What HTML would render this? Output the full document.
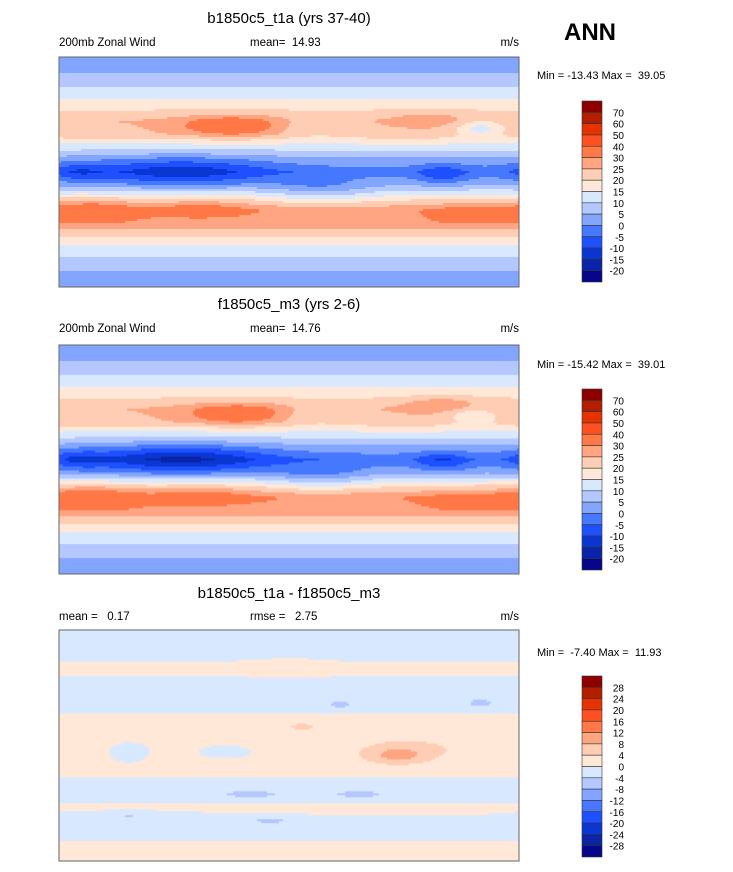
<!DOCTYPE html>
<html><head><meta charset="utf-8"><style>
body{margin:0;background:#fff;}
svg{display:block;font-family:"Liberation Sans",sans-serif;}
text{white-space:pre;}
</style></head><body>
<svg id="fig" width="733" height="872" viewBox="0 0 733 872" xmlns="http://www.w3.org/2000/svg" xml:space="preserve">
<text x="590" y="40" font-size="24" font-weight="bold" text-anchor="middle">ANN</text>

<text x="289" y="23" font-size="15" text-anchor="middle">b1850c5_t1a (yrs 37-40)</text>
<text x="59" y="46" font-size="11.5">200mb Zonal Wind</text>
<text x="250" y="46" font-size="11.5">mean=  14.93</text>
<text x="519" y="46" font-size="11.5" text-anchor="end">m/s</text>
<text x="537" y="79" font-size="11">Min = -13.43 Max =  39.05</text>

<text x="289" y="309" font-size="15" text-anchor="middle">f1850c5_m3 (yrs 2-6)</text>
<text x="59" y="332" font-size="11.5">200mb Zonal Wind</text>
<text x="250" y="332" font-size="11.5">mean=  14.76</text>
<text x="519" y="332" font-size="11.5" text-anchor="end">m/s</text>
<text x="537" y="368" font-size="11">Min = -15.42 Max =  39.01</text>

<text x="289" y="598" font-size="15" text-anchor="middle">b1850c5_t1a - f1850c5_m3</text>
<text x="59" y="620" font-size="11.5">mean =   0.17</text>
<text x="250" y="620" font-size="11.5">rmse =   2.75</text>
<text x="519" y="620" font-size="11.5" text-anchor="end">m/s</text>
<text x="537" y="656" font-size="11">Min =  -7.40 Max =  11.93</text>
</svg>
<script>
const colors=["#06068a","#0a24a8","#0a37d2","#1e50ff","#4678ff","#82a5ff","#b4c8ff","#d7e8ff","#ffe8d8","#ffcdb4","#ffa582","#ff7846","#ff5020","#e63200","#b41e00","#8c0000"];
const windLevels=[-20,-15,-10,-5,0,5,10,15,20,25,30,40,50,60,70];
const diffLevels=[-28,-24,-20,-16,-12,-8,-4,0,4,8,12,16,20,24,28];
const profileLats=[90,80,70,60,50,40,30,20,10,0,-10,-20,-30,-40,-50,-60,-70,-80,-90];
const profile1=[2,4,8,13,19,25,24,13,4,-2,5,18,29,28,21,13,8,4,3];
const blobs1=[[95,0,-12,70,12],[135,36,12,40,8],[330,34,-11,20,7],[300,-2,-8,20,8],[25,-30,9,35,9],[110,-28,6,40,7],[320,-33,6,30,8],[205,-15,-7,40,10],[15,0,-6,20,8],[290,42,4,30,6],[200,35,-5,30,8]];
const profile2=[2,4,8,13,19,25,24,13,4,-3,4,19,30,28,21,13,8,4,3];
const blobs2=[[95,0,-14,70,12],[140,36,12,40,8],[325,34,-9,20,7],[300,-2,-8,20,8],[25,-30,10,35,9],[110,-28,6,40,7],[320,-33,6,30,8],[205,-15,-7,40,10],[15,0,-6,20,8],[300,44,6,30,6],[200,35,-5,30,8]];
const profile3=[-1,-1,-1,1,-1,-1,-1,1,2,1,1,1,-1,-1,1,-1,-1,1,1];
const blobs3=[[265,-8,7,25,7],[280,-2,3,60,10],[190,15,3,20,4],[330,33,-4,15,5],[220,32,-4,12,4],[150,-38,-4,35,4],[235,-38,-4,30,4],[55,-55,-4,50,4],[165,-58,-4,25,4],[55,-5,-3,15,8],[130,-5,-2,25,6],[180,60,3,30,6]];
const svg=document.getElementById('fig');
const NS="http://www.w3.org/2000/svg";
function mk(t,a){const e=document.createElementNS(NS,t);for(const k in a)e.setAttribute(k,a[k]);return e;}
function profAt(p,lat){for(let i=0;i<profileLats.length-1;i++){if(lat<=profileLats[i]&&lat>=profileLats[i+1]){const f=(profileLats[i]-lat)/10;return p[i]+(p[i+1]-p[i])*f;}}return p[p.length-1];}
function field(p,b,lon,lat){let v=profAt(p,lat);for(const q of b){let dl=lon-q[0];if(dl>180)dl-=360;if(dl<-180)dl+=360;v+=q[2]*Math.exp(-((dl/q[3])**2+((lat-q[1])/q[4])**2));}return v;}
function colorFor(v,lv){let i=0;while(i<lv.length&&v>=lv[i])i++;return colors[i];}
function drawMap(idx,x0,y0,w,h,p,b,lv){
  const g=mk('g',{});
  
  
  const cs=2;const nx=Math.round(w/cs),ny=Math.round(h/cs);
  const xs=lon=>x0+lon/360*w, ys=lat=>y0+(90-lat)/180*h;
  for(let j=0;j<ny;j++){
    const lat=90-(j+0.5)/ny*180;
    let start=0,cur=null;
    for(let i=0;i<=nx;i++){
      const c=i<nx?colorFor(field(p,b,(i+0.5)/nx*360,lat),lv):null;
      if(c!==cur){
        if(cur!==null){const r=mk('rect',{x:xs(start/nx*360),y:ys(90-j/ny*180),width:(i-start)*w/nx+0.4,height:h/ny+0.4,fill:cur});
          
          
          g.appendChild(r);}
        cur=c;start=i;
      }
    }
  }
  const fr=mk('rect',{x:x0,y:y0,width:w,height:h,fill:'none',stroke:'#666','stroke-width':1});
  
  
  g.appendChild(fr);
  svg.appendChild(g);
}
function drawBar(idx,x0,y0,bh,lv){
  const g=mk('g',{});
  
  
  const n=colors.length;const step=bh/n;
  for(let k=0;k<n;k++){
    const r=mk('rect',{x:x0,y:y0+k*step,width:20,height:step,fill:colors[n-1-k],stroke:'#333','stroke-width':0.6});
    
    
    g.appendChild(r);
  }
  for(let k=0;k<lv.length;k++){
    const t=mk('text',{x:624,y:y0+(k+1)*step+4,'font-size':10,'text-anchor':'end'});
    
    
    t.textContent=lv[lv.length-1-k];g.appendChild(t);
  }
  svg.appendChild(g);
}
drawMap(1,59,57,460,230,profile1,blobs1,windLevels);
drawMap(2,59,345,460,229,profile2,blobs2,windLevels);
drawMap(3,59,630,460,231,profile3,blobs3,diffLevels);
drawBar(1,582,101,181,windLevels);
drawBar(2,582,389,181,windLevels);
drawBar(3,582,676,181,diffLevels);
</script>
</body></html>
